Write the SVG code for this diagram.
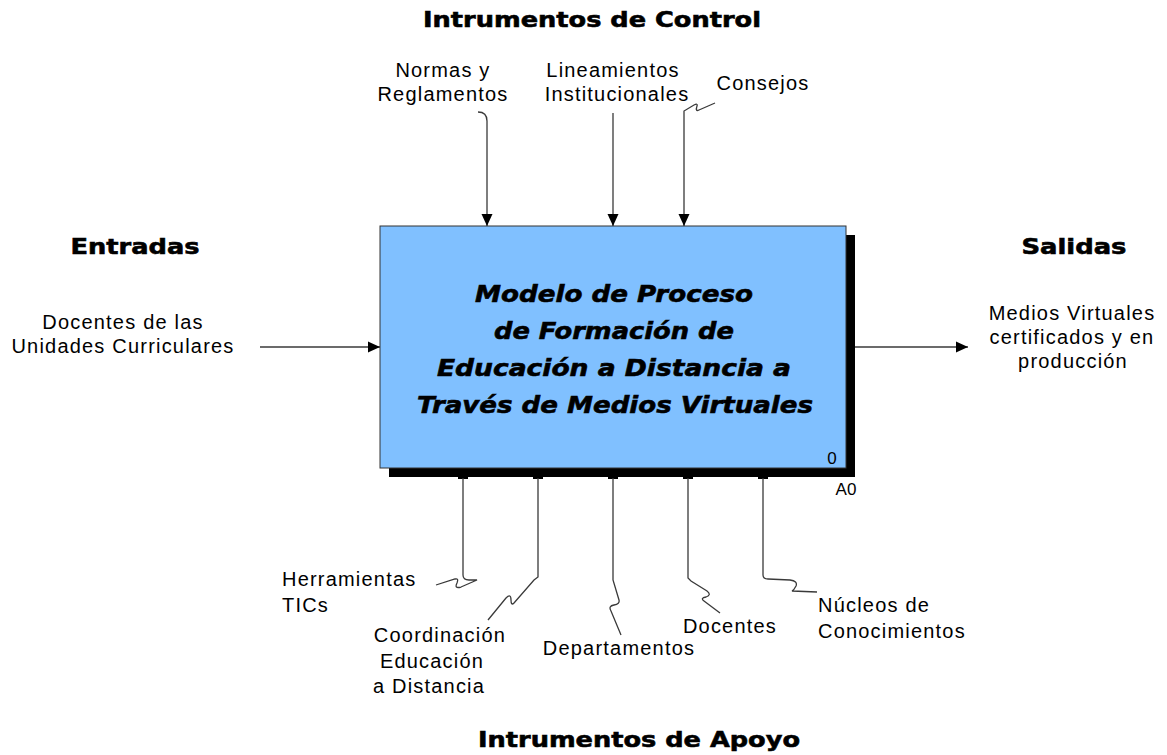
<svg xmlns="http://www.w3.org/2000/svg" width="1167" height="755" viewBox="0 0 1167 755">
<style>
.t{font-family:"DejaVu Sans","Liberation Sans",sans-serif;font-weight:bold;font-size:22px;fill:#000;stroke:#000;stroke-width:0.6px}
.m{font-family:"DejaVu Sans","Liberation Sans",sans-serif;font-weight:bold;font-style:italic;font-size:23px;fill:#000;stroke:#000;stroke-width:0.6px}
.l{font-family:"Liberation Sans",Arial,sans-serif;font-size:20px;letter-spacing:1.2px;fill:#000}
.c{text-anchor:middle}
.a{fill:none;stroke:#3a3a3a;stroke-width:1.3}
.n{font-family:"Liberation Sans",Arial,sans-serif;font-size:17px;fill:#000}
</style>
<defs>
<marker id="ah" markerUnits="userSpaceOnUse" markerWidth="12" markerHeight="12" viewBox="0 0 12 12" refX="12" refY="6" orient="auto">
<path d="M0,0.5 L12,6 L0,11.5 Z" fill="#000"/>
</marker>
</defs>
<rect width="1167" height="755" fill="#fff"/>
<g id="titles">
<text class="t c" x="592" y="27" textLength="338" lengthAdjust="spacingAndGlyphs">Intrumentos de Control</text>
<text class="t c" x="135" y="254" textLength="129" lengthAdjust="spacingAndGlyphs">Entradas</text>
<text class="t c" x="1074" y="254" textLength="105" lengthAdjust="spacingAndGlyphs">Salidas</text>
<text class="t c" x="639" y="747" textLength="322" lengthAdjust="spacingAndGlyphs">Intrumentos de Apoyo</text>
</g>
<g id="A0">
<rect x="389" y="235" width="466" height="242" fill="#000"/>
<rect x="380" y="226" width="466" height="242" fill="#80C0FF" stroke="#333" stroke-width="1"/>
<text class="m c" x="614" y="302" textLength="278" lengthAdjust="spacingAndGlyphs">Modelo de Proceso</text>
<text class="m c" x="614" y="339" textLength="240" lengthAdjust="spacingAndGlyphs">de Formación de</text>
<text class="m c" x="614" y="376" textLength="354" lengthAdjust="spacingAndGlyphs">Educación a Distancia a</text>
<text class="m c" x="615" y="413" textLength="396" lengthAdjust="spacingAndGlyphs">Través de Medios Virtuales</text>
<text class="n c" x="832" y="464">0</text>
<text class="n c" x="846" y="495">A0</text>
</g>
<g id="connectors">
<path class="a" d="M478,112 Q487,112 487,121 L487,226" marker-end="url(#ah)"/>
<path class="a" d="M613,113 L613,226" marker-end="url(#ah)"/>
<path class="a" d="M715,103 L699,110 Q695,112 697,106 Q698,103 694,105 L684,111 L684,226" marker-end="url(#ah)"/>
<path class="a" d="M260,347 L380,347" marker-end="url(#ah)"/>
<path class="a" d="M855,347 L968,347" marker-end="url(#ah)"/>
<g fill="#000">
<rect x="458" y="476" width="10" height="3"/>
<rect x="533" y="476" width="10" height="3"/>
<rect x="608" y="476" width="10" height="3"/>
<rect x="683" y="476" width="10" height="3"/>
<rect x="758" y="476" width="10" height="3"/>
</g>
<path class="a" d="M463,478 L463,575 Q463,580 469,580 L477,580 L461,587 Q454,589 457,583 Q459,578 455,579 L436,585"/>
<path class="a" d="M538,478 L538,577 L534,580 L514,603 Q511,606 511,600 Q511,593 506,598 L488,620"/>
<path class="a" d="M613,478 L613,580 L619,600 Q620,604 614,605 Q608,606 611,611 L621,635"/>
<path class="a" d="M688,478 L688,578 L691,581 L707,591 Q712,595 706,597 Q700,598 704,601 L720,613"/>
<path class="a" d="M763,478 L763,575 Q763,579 768,579 L790,580 Q798,581 796,586 Q794,590 792,591 L817,592"/>
</g>
<g id="labels">
<text class="l c" x="443" y="77">Normas y</text>
<text class="l c" x="443" y="101">Reglamentos</text>
<text class="l c" x="613" y="77">Lineamientos</text>
<text class="l c" x="617" y="101">Institucionales</text>
<text class="l c" x="763" y="90">Consejos</text>
<text class="l c" x="123" y="329">Docentes de las</text>
<text class="l c" x="123" y="353">Unidades Curriculares</text>
<text class="l c" x="1072" y="320">Medios Virtuales</text>
<text class="l c" x="1072" y="344">certificados y en</text>
<text class="l c" x="1073" y="368">producción</text>
<text class="l" x="282" y="586">Herramientas</text>
<text class="l" x="282" y="612">TICs</text>
<text class="l c" x="440" y="642">Coordinación</text>
<text class="l c" x="432" y="668">Educación</text>
<text class="l c" x="429" y="693">a Distancia</text>
<text class="l c" x="619" y="655">Departamentos</text>
<text class="l c" x="730" y="633">Docentes</text>
<text class="l" x="818" y="612">Núcleos de</text>
<text class="l" x="818" y="638">Conocimientos</text>
</g>
</svg>
